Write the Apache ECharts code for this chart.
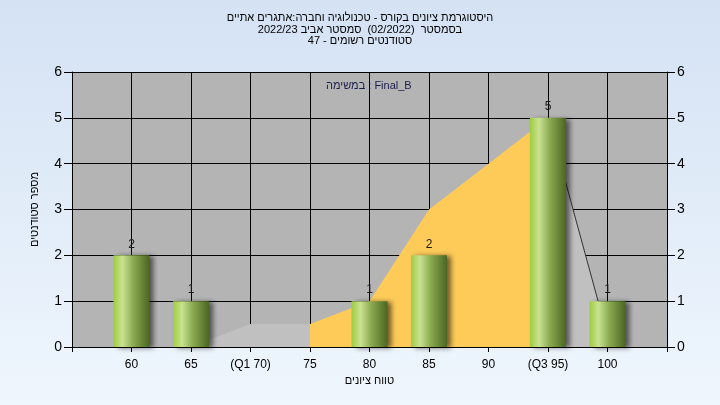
<!DOCTYPE html>
<html>
<head>
<meta charset="utf-8">
<script src="https://cdn.jsdelivr.net/npm/echarts@6/dist/echarts.min.js"></script>
<style>
html,body{margin:0;padding:0;width:720px;height:405px;overflow:hidden;}
#chart{width:720px;height:405px;}
</style>
</head>
<body>
<div id="chart"></div>
<script>
// ---- data ----
var titleLines = [
  'היסטוגרמת ציונים בקורס - טכנולוגיה וחברה:אתגרים אתיים',
  'בסמסטר  (02/2022)  סמסטר אביב 2022/23',
  'סטודנטים רשומים - 47'
];
var legendText = 'במשימה : Final_B';
var xAxisName = 'טווח ציונים';
var yAxisName = 'מספר סטודנטים';

var gradeValues = [60, 65, 70, 75, 80, 85, 90, 95, 100];
var gradeLabels = ['60', '65', '(Q1 70)', '75', '80', '85', '90', '(Q3 95)', '100'];
var studentCounts = [2, 1, 0, 0, 1, 2, 0, 5, 1];

// distribution areas (x = grade, y = value)
var lowAreaX = [65, 70, 75];
var lowAreaY = [0, 0.5, 0.5];
var midAreaX = [75, 80, 85, 90, 95];
var midAreaY = [0.5, 1, 3, 4, 5];
var highAreaX = [95, 100];
var highAreaY = [5, 0.25];

function pairs(xs, ys) { return xs.map(function (x, i) { return [x, ys[i]]; }); }

var FONT = "'Liberation Sans', 'DejaVu Sans', Arial, sans-serif";

var labelMap = {};
gradeValues.forEach(function (v, i) { labelMap[v] = gradeLabels[i]; });

var graphics = [];
var titleY = [18, 29.5, 41];
titleLines.forEach(function (line, i) {
  graphics.push({
    type: 'text', x: 360, y: titleY[i], silent: true, z: 100,
    style: {text: line, font: '11px ' + FONT, fill: '#000', align: 'center', verticalAlign: 'middle'}
  });
});
graphics.push({
  type: 'text', x: 369.5, y: 381, silent: true, z: 100,
  style: {text: xAxisName, font: '11px ' + FONT, fill: '#000', align: 'center', verticalAlign: 'middle'}
});
graphics.push({
  type: 'text', left: 326, top: 80, z: 100, silent: true,
  style: {text: legendText, font: '11px ' + FONT, fill: '#1c1c4c'}
});

var chart = echarts.init(document.getElementById('chart'), null, {renderer: 'canvas'});

var barGradient = new echarts.graphic.LinearGradient(0, 0, 1, 0, [
  {offset: 0, color: '#9fcc40'},
  {offset: 0.25, color: '#c9e291'},
  {offset: 0.55, color: '#8aaa4f'},
  {offset: 1, color: '#4b6622'}
]);

var option = {
  animation: false,
  backgroundColor: new echarts.graphic.LinearGradient(0, 0, 0, 1, [
    {offset: 0, color: '#d4e2f4'},
    {offset: 1, color: '#eff6fd'}
  ]),
  textStyle: {fontFamily: FONT},
  graphic: graphics,
  grid: {
    left: 72, right: 53, top: 72, bottom: 58,
    show: true, backgroundColor: '#b4b4b4', borderWidth: 0
  },
  xAxis: {
    type: 'value',
    min: 55, max: 105, interval: 5,
    axisLine: {show: true, onZero: false, lineStyle: {color: '#000', width: 1}},
    axisTick: {show: true, length: 5, lineStyle: {color: '#000'}},
    axisLabel: {
      fontFamily: FONT, fontSize: 12, color: '#000', margin: 12,
      showMinLabel: true, showMaxLabel: true,
      formatter: function (v) { return labelMap[v] !== undefined ? labelMap[v] : ''; }
    },
    splitLine: {show: true, lineStyle: {color: '#000', width: 1}}
  },
  yAxis: [{
    type: 'value', position: 'left',
    min: 0, max: 6, interval: 1,
    name: yAxisName,
    nameLocation: 'middle',
    nameGap: 32,
    nameRotate: 90,
    nameTextStyle: {fontFamily: FONT, fontSize: 11, color: '#000'},
    axisLine: {show: true, lineStyle: {color: '#000'}},
    axisTick: {show: true, length: 8, lineStyle: {color: '#000'}},
    axisLabel: {fontFamily: FONT, fontSize: 14, color: '#000', margin: 10},
    splitLine: {show: true, lineStyle: {color: '#000', width: 1}}
  }, {
    type: 'value', position: 'right',
    min: 0, max: 6, interval: 1,
    axisLine: {show: true, lineStyle: {color: '#000'}},
    axisTick: {show: true, length: 8, lineStyle: {color: '#000'}},
    axisLabel: {fontFamily: FONT, fontSize: 14, color: '#000', margin: 10},
    splitLine: {show: false}
  }],
  series: [{
    type: 'line', data: pairs(lowAreaX, lowAreaY),
    showSymbol: false, symbol: 'none', z: 1,
    lineStyle: {width: 0, opacity: 0},
    areaStyle: {color: '#c0c0c0', opacity: 1}
  }, {
    type: 'line', data: pairs(midAreaX, midAreaY),
    showSymbol: false, symbol: 'none', z: 1,
    lineStyle: {width: 0, opacity: 0},
    areaStyle: {color: '#fecb58', opacity: 1}
  }, {
    type: 'line', data: pairs(highAreaX, highAreaY),
    showSymbol: false, symbol: 'none', z: 1,
    lineStyle: {width: 1, color: '#333'},
    areaStyle: {color: '#c0c0c0', opacity: 1}
  }, {
    type: 'bar', name: 'Final_B',
    data: pairs(gradeValues, studentCounts),
    barWidth: 36, z: 3,
    itemStyle: {
      color: barGradient,
      shadowColor: 'rgba(0,0,0,0.55)', shadowBlur: 5, shadowOffsetX: 4, shadowOffsetY: 1
    },
    label: {
      show: true, position: 'top', distance: 5,
      fontFamily: FONT, fontSize: 12, color: '#1a1a1a',
      formatter: function (p) { return p.value[1] > 0 ? String(p.value[1]) : ''; }
    }
  }]
};
chart.setOption(option);
</script>
</body>
</html>
